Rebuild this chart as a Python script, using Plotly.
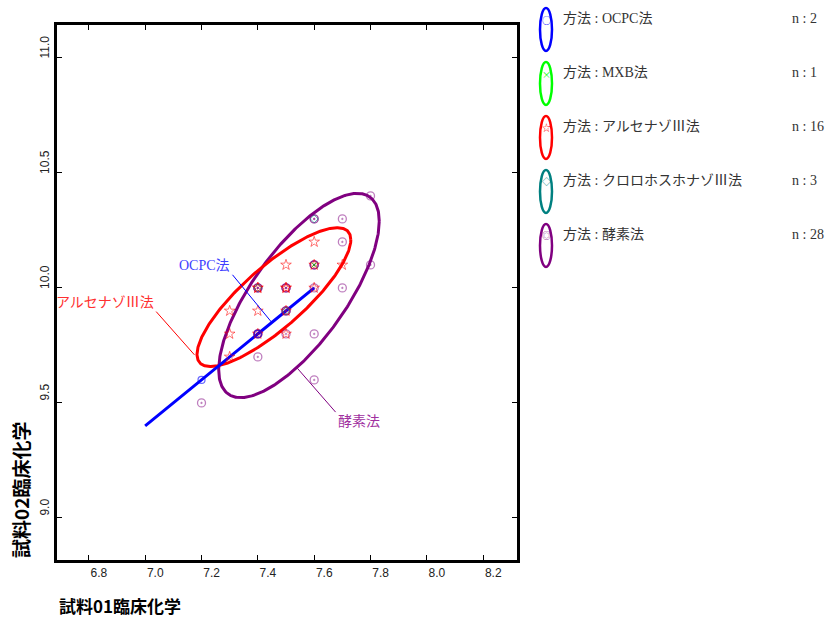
import numpy as np
import plotly.graph_objects as go

# ---------------- data ----------------
methods = ["OCPC法", "MXB法", "アルセナゾⅢ法", "クロロホスホナゾⅢ法", "酵素法"]
counts = [2, 1, 16, 3, 28]

ocpc_x = [7.2, 7.4]
ocpc_y = [9.6, 9.8]

mxb_x = [7.6]
mxb_y = [10.1]

arsen_x = [7.6, 7.5, 7.7, 7.3, 7.4, 7.3, 7.3, 7.4, 7.4, 7.5, 7.5, 7.5, 7.6, 7.4, 7.5, 7.6]
arsen_y = [10.2, 10.1, 10.1, 9.9, 9.9, 9.8, 9.7, 10.0, 10.0, 10.0, 10.0, 9.9, 10.1, 9.8, 9.8, 10.0]

chloro_x = [7.6, 7.5, 7.4]
chloro_y = [10.3, 9.9, 10.0]

enz_x = [7.8, 7.6, 7.6, 7.7, 7.7, 7.6, 7.6, 7.6, 7.8, 7.4, 7.4, 7.4, 7.5, 7.5, 7.5,
         7.6, 7.7, 7.5, 7.5, 7.5, 7.4, 7.4, 7.4, 7.5, 7.6, 7.4, 7.6, 7.2]
enz_y = [10.4, 10.3, 10.3, 10.3, 10.2, 10.1, 10.1, 10.1, 10.1, 10.0, 10.0, 10.0, 10.0, 10.0, 10.0,
         10.0, 10.0, 9.9, 9.9, 9.9, 9.8, 9.8, 9.8, 9.8, 9.8, 9.7, 9.6, 9.5]

# ellipse parameters: centre x, centre y, half-width, half-height, correlation
ell_names = ["OCPC法", "アルセナゾⅢ法", "酵素法"]
ell_cx = [7.3, 7.457, 7.546]
ell_cy = [9.7, 9.960, 9.967]
ell_sx = [0.3, 0.273, 0.285]
ell_sy = [0.3, 0.302, 0.444]
ell_r = [1.0, 0.824, 0.727]

# label annotations (text, leader start x,y, leader end x,y)
lab_text = ["OCPC法", "アルセナゾⅢ法", "酵素法"]
lab_x0 = [7.310, 7.039, 7.676]
lab_y0 = [10.057, 9.897, 9.460]
lab_x1 = [7.448, 7.175, 7.540]
lab_y1 = [9.852, 9.709, 9.651]

x_ticks = [6.8, 7.0, 7.2, 7.4, 7.6, 7.8, 8.0, 8.2]
y_ticks = [9.0, 9.5, 10.0, 10.5, 11.0]

# ---------------- style ----------------
ell_colors = {"OCPC法": "#0000ff", "アルセナゾⅢ法": "#ff0000", "酵素法": "#800080"}
leg_colors = ["#0000ff", "#00ff00", "#ff0000", "#008080", "#800080"]
leg_marks = ["○", "×", "☆", "◇", "◎"]
lab_colors = ["#4040ff", "#ff3030", "#a030a0"]
lab_anchor = [("right", "bottom"), ("right", "bottom"), ("left", "top")]
lab_line_colors = ["#0000ff", "#ff0000", "#800080"]
SERIF = "Liberation Serif, Noto Sans CJK JP"
TICKFONT = "Liberation Sans Narrow, Liberation Sans, sans-serif"

fig = go.Figure()

# ellipses
t = np.linspace(0, 2 * np.pi, 361)
for name in ["酵素法", "アルセナゾⅢ法", "OCPC法"]:
    i = ell_names.index(name)
    r = ell_r[i]
    ex = ell_cx[i] + ell_sx[i] * np.cos(t)
    ey = ell_cy[i] + ell_sy[i] * (r * np.cos(t) + np.sqrt(max(0.0, 1 - r * r)) * np.sin(t))
    fig.add_trace(go.Scatter(x=ex, y=ey, mode="lines", line=dict(color=ell_colors[name], width=3),
                             hoverinfo="skip", showlegend=False))

# points
fig.add_trace(go.Scatter(x=enz_x, y=enz_y, mode="markers", showlegend=False,
                         marker=dict(symbol="circle-open-dot", size=8, color="#800080",
                                     opacity=0.5, line=dict(width=1.3))))
fig.add_trace(go.Scatter(x=arsen_x, y=arsen_y, mode="markers", showlegend=False,
                         marker=dict(symbol="star-open", size=8, color="#ff0000",
                                     opacity=0.55, line=dict(width=1))))
fig.add_trace(go.Scatter(x=chloro_x, y=chloro_y, mode="markers", showlegend=False,
                         marker=dict(symbol="diamond-open", size=6, color="#008080",
                                     opacity=0.6, line=dict(width=1))))
fig.add_trace(go.Scatter(x=mxb_x, y=mxb_y, mode="markers", showlegend=False,
                         marker=dict(symbol="x-thin-open", size=5, color="#00c000",
                                     opacity=0.8, line=dict(width=1))))
fig.add_trace(go.Scatter(x=ocpc_x, y=ocpc_y, mode="markers", showlegend=False,
                         marker=dict(symbol="circle-open", size=7, color="#0000ff",
                                     opacity=0.6, line=dict(width=1.2))))

shapes = []
annotations = []

# leader lines + labels
for i, txt in enumerate(lab_text):
    shapes.append(dict(type="line", xref="x", yref="y", x0=lab_x0[i], y0=lab_y0[i],
                       x1=lab_x1[i], y1=lab_y1[i], line=dict(color=lab_line_colors[i], width=1)))
    xa, ya = lab_anchor[i]
    annotations.append(dict(x=lab_x0[i], y=lab_y0[i], xref="x", yref="y", text=txt,
                            showarrow=False, xanchor=xa, yanchor=ya,
                            font=dict(family=SERIF, size=14, color=lab_colors[i])))

# custom legend (pixel -> paper helpers)
L, R, T, B = 57, 517, 25, 560
def px(xp):
    return (xp - L) / (R - L)
def py(yp):
    return (B - yp) / (B - T)

for k, m in enumerate(methods):
    top = 8 + 54 * k
    shapes.append(dict(type="circle", xref="paper", yref="paper",
                       x0=px(540), x1=px(552), y0=py(top), y1=py(top + 43),
                       line=dict(color=leg_colors[k], width=2.5)))
    annotations.append(dict(x=px(546), y=py(top + 12), xref="paper", yref="paper",
                            text=leg_marks[k], showarrow=False, xanchor="center", yanchor="middle",
                            font=dict(family="Noto Sans CJK JP", size=9, color=leg_colors[k])))
    annotations.append(dict(x=px(561), y=py(top + 10), xref="paper", yref="paper",
                            text="方法 : " + m, showarrow=False, xanchor="left", yanchor="middle",
                            font=dict(family=SERIF, size=14, color="#333333")))
    annotations.append(dict(x=px(790), y=py(top + 10), xref="paper", yref="paper",
                            text="n : " + str(counts[k]), showarrow=False, xanchor="left",
                            yanchor="middle", font=dict(family=SERIF, size=14, color="#333333")))

# axis titles
annotations.append(dict(x=0, y=py(605), xref="paper", yref="paper", text="<b>試料01臨床化学</b>",
                        showarrow=False, xanchor="left", yanchor="middle",
                        font=dict(family="Noto Sans CJK JP", size=17, color="black")))
annotations.append(dict(x=px(20), y=0, xref="paper", yref="paper", text="<b>試料02臨床化学</b>",
                        showarrow=False, xanchor="center", yanchor="bottom", textangle=-90,
                        font=dict(family="Noto Sans CJK JP", size=19, color="black")))

fig.update_layout(
    width=828, height=618,
    margin=dict(l=L, r=828 - R, t=T, b=618 - B),
    paper_bgcolor="white", plot_bgcolor="white",
    shapes=shapes, annotations=annotations, showlegend=False,
)
fig.update_xaxes(range=[6.687, 8.32], tickvals=x_ticks, ticktext=[f"{v:.1f}" for v in x_ticks],
                 showgrid=False, zeroline=False, showline=True, linecolor="black", linewidth=2.5,
                 mirror="ticks", ticks="inside", ticklen=5, tickcolor="black", tickwidth=1,
                 ticklabelposition="outside right",
                 tickfont=dict(family=TICKFONT, size=12, color="#222222"))
fig.update_yaxes(range=[8.817, 11.143], tickvals=y_ticks, ticktext=[f"{v:.1f}" for v in y_ticks],
                 showgrid=False, zeroline=False, showline=True, linecolor="black", linewidth=2.5,
                 mirror="ticks", ticks="inside", ticklen=5, tickcolor="black", tickwidth=1,
                 tickangle=-90, ticklabelposition="outside top",
                 tickfont=dict(family=TICKFONT, size=12, color="#222222"))

fig.write_html("out.html", config={"displayModeBar": False},
               post_script="document.body.style.margin='0';document.body.style.overflow='hidden';")
